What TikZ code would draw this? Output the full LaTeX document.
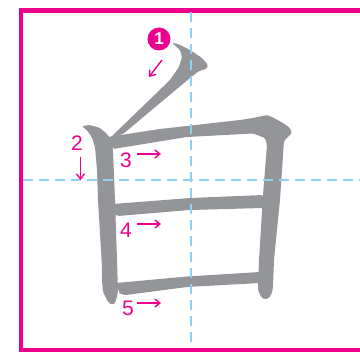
\documentclass[tikz,border=0pt]{standalone}
\usepackage{fontspec}
\setmainfont{Liberation Sans}
\usetikzlibrary{arrows.meta}
\definecolor{hotpink}{HTML}{EC008C}
\definecolor{inkgray}{HTML}{939598}
\definecolor{skyline}{HTML}{8DD3F0}
\begin{document}
\begin{tikzpicture}[x=1pt, y=-1pt,
  frame/.style={draw=hotpink, line width=4.2pt},
  guide/.style={draw=skyline, line width=1.3pt, dash pattern=on 10pt off 6pt},
  stroke/.style={fill=inkgray, rounded corners=1.5pt},
  numlab/.style={text=hotpink, font=\fontsize{21}{21}\selectfont, inner sep=0pt},
  numcirc/.style={circle, fill=hotpink, text=white, minimum size=23pt, inner sep=0pt, font=\fontsize{17}{17}\selectfont\bfseries},
  dirarr/.style={-{Straight Barb[length=5pt, width=8pt]}, hotpink, line width=1.4pt}]
  \useasboundingbox (0,0) rectangle (360,358);
  \clip (0,0) rectangle (360,358);
  \draw[frame] (21,10.5) rectangle (372,350);
  % strokes of the character
  \fill[stroke] (171.7,42.7) -- (178,44) -- (190,50) -- (202,58) -- (208,65) -- (207,68.5) -- (199,71) -- (190,78)
    -- (123,134) -- (110,138) -- (170,80) -- (179,67) -- (182,57) -- (180,50) -- cycle;
  \fill[stroke] (81.7,126) -- (90,125) -- (100,128) -- (107,134) -- (111,140) -- (113,150) -- (115,200) -- (117,260)
    -- (118,290) -- (117,297) -- (115,303) -- (112,305) -- (108,302) -- (103,292) -- (102,280) -- (102,267)
    -- (98,200) -- (97,170) -- (95,147) -- (91.7,137) -- (86.7,130) -- cycle;
  \fill[stroke] (108,137) -- (160,129) -- (240,120) -- (253,118) -- (267,115) -- (272,117) -- (283,123) -- (290,128)
    -- (292,133) -- (288,137) -- (284,141) -- (280,200) -- (274,260) -- (273,287) -- (272,293) -- (269,298)
    -- (265,299.5) -- (261,297) -- (258,290) -- (259,260) -- (263,195) -- (267,145) -- (265,138) -- (253,133.5)
    -- (187,137) -- (113,149) -- cycle;
  \fill[stroke] (113,204) -- (190,198) -- (263,195) -- (263,208) -- (190,210) -- (118,216) -- (114,214) -- cycle;
  \fill[stroke] (116,283) -- (187,276.5) -- (260,272) -- (260,283) -- (187,287) -- (126,295) -- (120,294) -- cycle;
  % guide lines
  \draw[guide] (191,12.5) -- (191,348);
  \draw[guide] (23,180) -- (360,180);
  % stroke order labels
  \node[numcirc] (s1) at (159,39) {1};
  \node[numlab] (s2) at (77,143) {2};
  \node[numlab] (s3) at (126,160) {3};
  \node[numlab] (s4) at (126,230) {4};
  \node[numlab] (s5) at (128,308) {5};
  \coordinate (a1) at (162,60);   \coordinate (b1) at (149,77);
  \coordinate (a2) at (80.5,157); \coordinate (b2) at (80.5,180);
  \coordinate (a3) at (137,154);  \coordinate (b3) at (161,154);
  \coordinate (a4) at (137,224);  \coordinate (b4) at (161,224);
  \coordinate (a5) at (137,303);  \coordinate (b5) at (161,303);
  \foreach \i in {1,...,5}
    \draw[dirarr] (a\i) -- (b\i);
\end{tikzpicture}
\end{document}
